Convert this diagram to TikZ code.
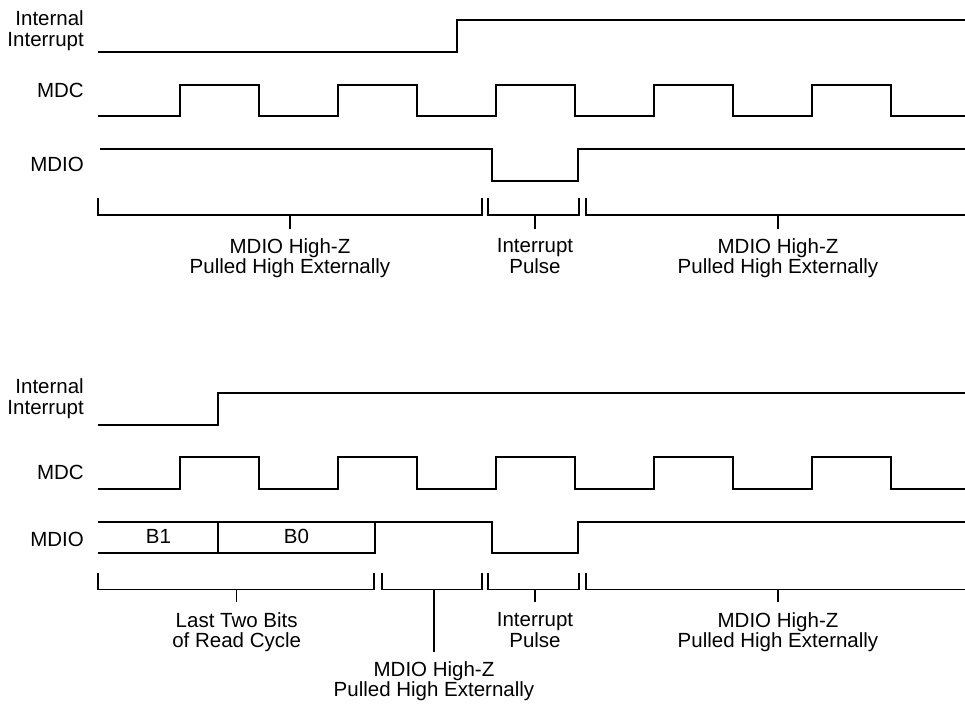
\documentclass[tikz,border=0pt]{standalone}
\usepackage{fontspec}
\setmainfont{Liberation Sans}
\begin{document}
\begin{tikzpicture}[x=1pt,y=-1pt,
  sig/.style={line width=1.7pt, line join=miter, line cap=rect},
  brk/.style={line width=1.1pt, line join=miter},
  txt/.style={inner sep=0pt, align=center, font=\fontsize{20.5}{20.5}\selectfont,
    execute at begin node=\strut, execute at end node=\strut},
  lbl/.style={txt, align=right, anchor=east}]
\useasboundingbox (0,0) rectangle (965,708);

% ---------- top diagram ----------
\node[lbl] (tint) at (84,31.8) {Internal\\Interrupt};
\node[lbl] (tmdc) at (84,93.8) {MDC};
\node[lbl] (tmdio) at (84,167.6) {MDIO};

\draw[sig] (99,52) -- (457,52) -- (457,20) -- (965,20);
\draw[sig] (99,116) -- (180,116) -- (180,85) -- (259,85) -- (259,116)
  -- (338,116) -- (338,85) -- (417,85) -- (417,116)
  -- (496,116) -- (496,85) -- (575,85) -- (575,116)
  -- (654,116) -- (654,85) -- (733,85) -- (733,116)
  -- (812,116) -- (812,85) -- (891,85) -- (891,116) -- (965,116);
\draw[sig] (101,149) -- (492,149) -- (492,181) -- (578,181) -- (578,149) -- (965,149);

\draw[brk] (98,198) -- (98,215) -- (482,215) -- (482,198);
\draw[brk] (290,215) -- (290,229);
\draw[brk] (488,198) -- (488,215) -- (579,215) -- (579,198);
\draw[brk] (535,215) -- (535,229);
\draw[brk] (586,198) -- (586,215) -- (966,215);
\draw[brk] (778,215) -- (778,229);

\node[txt] (thz1) at (290,259) {MDIO High-Z\\Pulled High Externally};
\node[txt] (tip) at (535,259) {Interrupt\\Pulse};
\node[txt] (thz2) at (778,259) {MDIO High-Z\\Pulled High Externally};

% ---------- bottom diagram ----------
\node[lbl] (bint) at (84,399.8) {Internal\\Interrupt};
\node[lbl] (bmdc) at (84,475.1) {MDC};
\node[lbl] (bmdio) at (84,542) {MDIO};

\draw[sig] (99,425) -- (218,425) -- (218,393) -- (965,393);
\draw[sig] (99,489) -- (180,489) -- (180,457) -- (259,457) -- (259,489)
  -- (338,489) -- (338,457) -- (417,457) -- (417,489)
  -- (496,489) -- (496,457) -- (575,457) -- (575,489)
  -- (654,489) -- (654,457) -- (733,457) -- (733,489)
  -- (812,489) -- (812,457) -- (891,457) -- (891,489) -- (965,489);
\draw[sig] (99,522) -- (492,522) -- (492,553) -- (578,553) -- (578,522) -- (965,522);
\draw[sig] (99,553) -- (375,553) -- (375,522);
\draw[sig] (218,522) -- (218,553);
\node[txt] (b1) at (158.5,539.8) {B1};
\node[txt] (b0) at (296.5,539.8) {B0};

\draw[brk] (98,573) -- (98,589.5) -- (374,589.5) -- (374,573);
\draw[brk] (236.7,589.5) -- (236.7,602);
\draw[brk] (382,573) -- (382,589.5) -- (482,589.5) -- (482,573);
\draw[brk] (434,589.5) -- (434,652);
\draw[brk] (488,573) -- (488,589.5) -- (579,589.5) -- (579,573);
\draw[brk] (535,589.5) -- (535,602);
\draw[brk] (586,573) -- (586,589.5) -- (966,589.5);
\draw[brk] (778,589.5) -- (778,602);

\node[txt] (blast) at (236.7,633) {Last Two Bits\\of Read Cycle};
\node[txt] (bhz1) at (434,682) {MDIO High-Z\\Pulled High Externally};
\node[txt] (bip) at (535,633) {Interrupt\\Pulse};
\node[txt] (bhz2) at (778,633) {MDIO High-Z\\Pulled High Externally};
\end{tikzpicture}
\end{document}
